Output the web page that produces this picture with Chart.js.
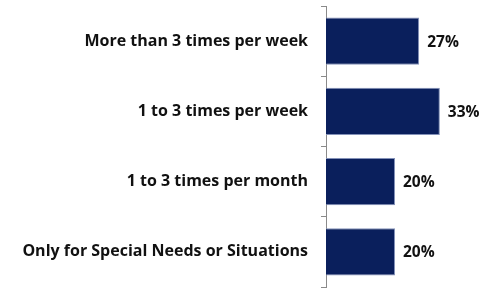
<!DOCTYPE html>
<html><head><meta charset="utf-8">
<script src="https://cdn.jsdelivr.net/npm/chart.js@4"></script>
<style>html,body{margin:0;padding:0;background:#fff}#wrap{width:503px;height:289px}</style>
</head><body><div id="wrap"><canvas id="c" width="503" height="289"></canvas></div>
<script>
const categories = ["More than 3 times per week","1 to 3 times per week","1 to 3 times per month","Only for Special Needs or Situations"];
const values = [27,33,20,20];
const valueLabels = ["27%","33%","20%","20%"];

const FONT = "'Open Sans', sans-serif";

const labelPlugin = {
  id:'valueLabels',
  afterDatasetsDraw(chart){
    const ctx = chart.ctx;
    const meta = chart.getDatasetMeta(0);
    ctx.save();
    ctx.font = "bold 15.5px " + FONT;
    ctx.fillStyle = "#111";
    ctx.textAlign = "left";
    ctx.textBaseline = "middle";
    meta.data.forEach((bar,i)=>{
      ctx.fillText(valueLabels[i], bar.x + 8, bar.y + 1);
    });
    ctx.restore();
  }
};

new Chart(document.getElementById('c'), {
  type:'bar',
  data:{labels:categories, datasets:[{data:values, backgroundColor:'#0A1F5C', borderColor:'#8391B8', borderWidth:1, categoryPercentage:0.67, barPercentage:1}]},
  options:{
    indexAxis:'y', responsive:false, animation:false,
    layout:{padding:{top:6,bottom:2,left:0,right:39}},
    plugins:{legend:{display:false}, tooltip:{enabled:false}},
    scales:{
      x:{display:false, min:0, max:40},
      y:{
        afterFit(scale){ scale.width = 326; scale.paddingTop = 0; scale.paddingBottom = 0; },
        grid:{drawOnChartArea:false, drawTicks:true, tickLength:5, color:'#8a8a8a', offset:true},
        border:{display:true, color:'#8a8a8a', width:1},
        ticks:{padding:13, color:'#111', font:{family:FONT, size:16, weight:'bold'}}
      }
    }
  },
  plugins:[labelPlugin]
});
</script></body></html>
